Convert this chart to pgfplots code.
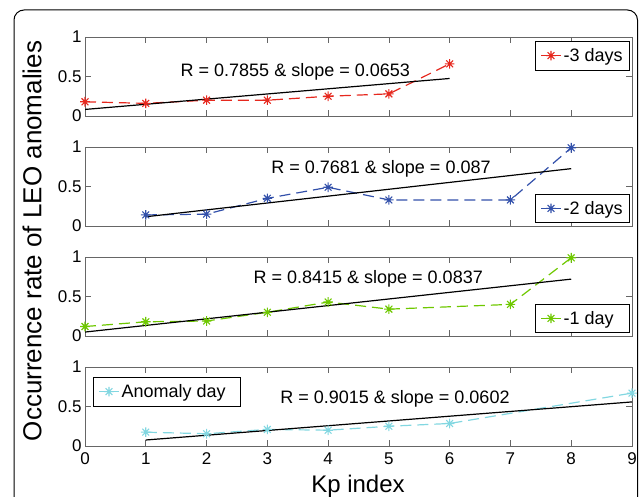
\documentclass[border=0pt]{standalone}
\usepackage{pgfplots}
\pgfplotsset{compat=1.18}
\usepackage{fontspec}
\setmainfont{Liberation Sans}
\definecolor{cred}{RGB}{230,40,30}
\definecolor{cblue}{RGB}{50,80,170}
\definecolor{cgreen}{RGB}{110,200,0}
\definecolor{ccyan}{RGB}{130,215,225}
\pgfdeclareplotmark{mstar}{%
 \pgfpathmoveto{\pgfpoint{-\pgfplotmarksize}{0pt}}\pgfpathlineto{\pgfpoint{\pgfplotmarksize}{0pt}}%
 \pgfpathmoveto{\pgfpoint{0pt}{-\pgfplotmarksize}}\pgfpathlineto{\pgfpoint{0pt}{\pgfplotmarksize}}%
 \pgfpathmoveto{\pgfpoint{-0.707\pgfplotmarksize}{-0.707\pgfplotmarksize}}\pgfpathlineto{\pgfpoint{0.707\pgfplotmarksize}{0.707\pgfplotmarksize}}%
 \pgfpathmoveto{\pgfpoint{-0.707\pgfplotmarksize}{0.707\pgfplotmarksize}}\pgfpathlineto{\pgfpoint{0.707\pgfplotmarksize}{-0.707\pgfplotmarksize}}%
 \pgfusepathqstroke}
\tikzset{ann/.style={font=\fontsize{18}{18}\selectfont,inner sep=0pt}}
\pgfplotsset{
 panel/.style={width=547pt,height=79pt,scale only axis,
  xmin=0,xmax=9,ymin=0,ymax=1,xtick={0,...,9},ytick={0,0.5,1},
  tick align=inside,major tick length=6pt,
  axis line style={black!60},tick style={black!60,line width=0.6pt},
  ticklabel style={font=\fontsize{17}{17}\selectfont},
  xticklabel style={yshift=-3pt},
  /pgf/number format/assume math mode=true,
  anchor=north west,
  legend style={font=\fontsize{18}{18}\selectfont,draw=black,fill=white,
    inner xsep=5pt,inner ysep=5pt,line width=0.8pt},
  legend image code/.code={\draw[mark repeat=2,mark phase=2,##1,solid,line width=1.2pt] plot coordinates {(0pt,0pt) (10pt,0pt) (20pt,0pt)};},
 },
 dat/.style={dashed,dash pattern=on 11pt off 6pt,line width=1.2pt,mark=mstar,mark size=4.8pt,mark options={solid,line width=1.1pt}},
 fitl/.style={black,line width=1.2pt,no marks,forget plot},
}
\begin{document}
\begin{tikzpicture}
\useasboundingbox (0pt,0pt) rectangle (639pt,-497pt);
\draw[line width=1pt,rounded corners=10pt] (14pt,-510pt) -- (14pt,-10pt) -- (637.5pt,-10pt) -- (637.5pt,-510pt);

\begin{axis}[panel,at={(85pt,-37pt)},xticklabels={},
  legend style={at={(1,1)},anchor=north east,xshift=-2pt,yshift=-4pt}]
\addplot[dat,cred] coordinates {(0,0.18) (1,0.16) (2,0.20) (3,0.20) (4,0.25) (5,0.28) (6,0.66)};
\addlegendentry{\makebox[59pt][l]{-3 days}}
\addplot[fitl] coordinates {(0,0.083) (6,0.475)};
\node[ann] at (axis cs:3.46,0.56) {R = 0.7855 \& slope = 0.0653};
\end{axis}

\begin{axis}[panel,at={(85pt,-147pt)},xticklabels={},
  legend style={at={(1,0)},anchor=south east,xshift=-2pt,yshift=3pt}]
\addplot[dat,cblue] coordinates {(1,0.14) (2,0.15) (3,0.35) (4,0.49) (5,0.33) (7,0.33) (8,0.99)};
\addlegendentry{\makebox[59pt][l]{-2 days}}
\addplot[fitl] coordinates {(1,0.117) (8,0.726)};
\node[ann] at (axis cs:4.87,0.72) {R = 0.7681 \& slope = 0.087};
\end{axis}

\begin{axis}[panel,at={(85pt,-257pt)},xticklabels={},
  legend style={at={(1,0)},anchor=south east,xshift=-2pt,yshift=3pt}]
\addplot[dat,cgreen] coordinates {(0,0.12) (1,0.18) (2,0.19) (3,0.30) (4,0.43) (5,0.34) (7,0.40) (8,0.99)};
\addlegendentry{\makebox[59pt][l]{-1 day}}
\addplot[fitl] coordinates {(0,0.05) (8,0.72)};
\node[ann] at (axis cs:4.66,0.72) {R = 0.8415 \& slope = 0.0837};
\end{axis}

\begin{axis}[panel,at={(85pt,-367pt)},
  legend style={at={(0,1)},anchor=north west,xshift=8pt,yshift=-10pt}]
\addplot[dat,ccyan] coordinates {(1,0.175) (2,0.155) (3,0.21) (4,0.20) (5,0.25) (6,0.285) (9,0.67)};
\addlegendentry{\makebox[112pt][l]{Anomaly day}}
\addplot[fitl] coordinates {(1,0.076) (9,0.558)};
\node[ann] at (axis cs:5.1,0.6) {R = 0.9015 \& slope = 0.0602};
\end{axis}

\node[rotate=90,font=\fontsize{26}{26}\selectfont,inner sep=0pt] at (32pt,-241pt) {Occurrence rate of LEO anomalies};
\node[font=\fontsize{24}{24}\selectfont,inner sep=0pt] at (358pt,-486pt) {Kp index};
\end{tikzpicture}
\end{document}
